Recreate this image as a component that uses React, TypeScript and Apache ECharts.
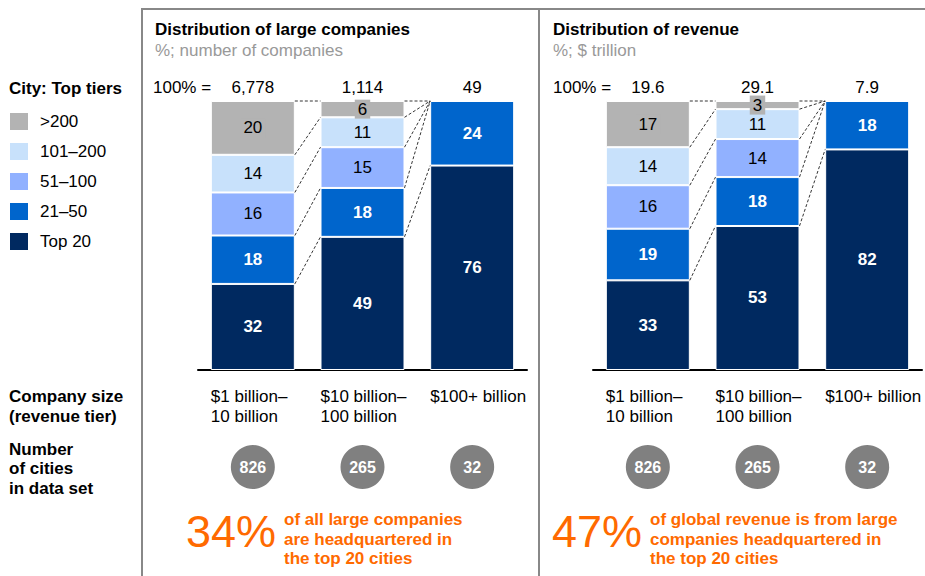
import React, { useEffect, useRef } from "react";
import * as echarts from "echarts";

const TIERS = ["Top 20", "21–50", "51–100", "101–200", ">200"];
const LEGEND_ORDER = [">200", "101–200", "51–100", "21–50", "Top 20"];
const SIZE_CATEGORIES = ["$1 billion–\n10 billion", "$10 billion–\n100 billion", "$100+ billion"];

// Distribution of large companies (%)
const COMPANY_TOP20 = [32, 49, 76];
const COMPANY_21_50 = [18, 18, 24];
const COMPANY_51_100 = [16, 15, 0];
const COMPANY_101_200 = [14, 11, 0];
const COMPANY_OVER_200 = [20, 6, 0];
const COMPANY_TOTALS = ["6,778", "1,114", "49"];

// Distribution of revenue (%)
const REVENUE_TOP20 = [33, 53, 82];
const REVENUE_21_50 = [19, 18, 18];
const REVENUE_51_100 = [16, 14, 0];
const REVENUE_101_200 = [14, 11, 0];
const REVENUE_OVER_200 = [17, 3, 0];
const REVENUE_TOTALS = ["19.6", "29.1", "7.9"];

const CITY_COUNTS = [826, 265, 32];

const COLORS = ["#002960", "#0065CC", "#91B1FF", "#C8E1FB", "#B3B3B3"];
const FONT = "'Liberation Sans', Arial, Helvetica, sans-serif";
const ORANGE = "#FF6A00";
const BAR_W = 84;
const FS = 17;

type Panel = { tiers: number[][]; totals: string[] };

const PANELS: Panel[] = [
  { tiers: [COMPANY_TOP20, COMPANY_21_50, COMPANY_51_100, COMPANY_101_200, COMPANY_OVER_200], totals: COMPANY_TOTALS },
  { tiers: [REVENUE_TOP20, REVENUE_21_50, REVENUE_51_100, REVENUE_101_200, REVENUE_OVER_200], totals: REVENUE_TOTALS },
];

function normalize(p: Panel) {
  const n = SIZE_CATEGORIES.length;
  const sums = Array.from({ length: n }, (_, i) => p.tiers.reduce((s, t) => s + t[i], 0));
  const norm = p.tiers.map((t) => t.map((v, i) => (v / sums[i]) * 100));
  const cums = Array.from({ length: n }, (_, i) => {
    let c = 0;
    return norm.map((t) => (c += t[i]));
  });
  return { norm, cums };
}

function txt(text: string, x: number, y: number, o: any = {}) {
  return {
    type: "text",
    x,
    y,
    silent: true,
    style: {
      text,
      fill: o.fill || "#000",
      fontSize: o.size || FS,
      fontWeight: o.bold ? "bold" : "normal",
      fontFamily: FONT,
      textAlign: o.align || "left",
      textVerticalAlign: o.va || "middle",
      lineHeight: o.lh,
    },
  };
}

export default function App() {
  const ref = useRef<HTMLDivElement>(null);
  useEffect(() => {
    if (!ref.current) return;
    const chart = echarts.init(ref.current, null, { renderer: "svg" });
    const grids = [
      { left: 198, width: 329, top: 101, height: 269 },
      { left: 593, width: 329, top: 101, height: 269 },
    ];
    const series: any[] = [];
    PANELS.forEach((p, pi) => {
      const { norm, cums } = normalize(p);
      TIERS.forEach((name, ti) => {
        const dark = ti < 2;
        series.push({
          name,
          type: "bar",
          stack: "p" + pi,
          xAxisIndex: pi,
          yAxisIndex: pi,
          barWidth: BAR_W,
          color: COLORS[ti],
          itemStyle: { color: COLORS[ti], borderColor: "#fff", borderWidth: 1 },
          data: norm[ti].map((v, i) => ({
            value: v,
            label: { show: p.tiers[ti][i] > 0 },
          })),
          label: {
            show: true,
            position: "inside",
            formatter: (prm: any) => String(p.tiers[ti][prm.dataIndex]),
            color: dark ? "#fff" : "#000",
            fontWeight: dark ? "bold" : "normal",
            fontSize: FS,
            fontFamily: FONT,
            ...(ti === 4 ? { backgroundColor: "#B3B3B3", padding: [1, 3, 1, 3] } : {}),
          },
        });
      });
      series.push({
        type: "custom",
        xAxisIndex: pi,
        yAxisIndex: pi,
        silent: true,
        z: 10,
        data: SIZE_CATEGORIES.map((_, i) => [i, 0]),
        encode: { x: 0, y: 1 },
        renderItem: (params: any, api: any) => {
          const i = api.value(0);
          const [cx, baseY] = api.coord([i, 0]);
          const topY = api.coord([i, 100])[1];
          const children: any[] = [];
          children.push(txt(p.totals[i], cx, topY - 14, { align: "center" }));
          children.push(
            txt(SIZE_CATEGORIES[i], cx - BAR_W / 2, baseY + 16, { va: "top", lh: 20 })
          );
          children.push({
            type: "circle",
            shape: { cx, cy: baseY + 97, r: 22 },
            style: { fill: "#808080" },
          });
          children.push(
            txt(String(CITY_COUNTS[i]), cx, baseY + 97, { align: "center", bold: true, fill: "#fff", size: 16 })
          );
          if (i < SIZE_CATEGORIES.length - 1) {
            const nx = api.coord([i + 1, 0])[0];
            for (let k = 0; k < TIERS.length; k++) {
              const y1 = api.coord([i, cums[i][k]])[1];
              const y2 = api.coord([i + 1, cums[i + 1][k]])[1];
              children.push({
                type: "line",
                shape: { x1: cx + BAR_W / 2, y1, x2: nx - BAR_W / 2, y2 },
                style: { stroke: "#000", lineWidth: 0.8, lineDash: [3, 2] },
              });
            }
          }
          return { type: "group", children };
        },
      });
    });

    const graphic: any[] = [
      {
        type: "polyline",
        shape: { points: [[142, 576], [142, 9], [925, 9]] },
        style: { stroke: "#888", lineWidth: 2, fill: "none" },
        silent: true,
      },
      {
        type: "line",
        shape: { x1: 539, y1: 9, x2: 539, y2: 576 },
        style: { stroke: "#888", lineWidth: 2 },
        silent: true,
      },
      txt("City: Top tiers", 9, 88, { bold: true }),
      txt("Company size", 9, 396, { bold: true }),
      txt("(revenue tier)", 9, 416, { bold: true }),
      txt("Number", 9, 449, { bold: true }),
      txt("of cities", 9, 468, { bold: true }),
      txt("in data set", 9, 488, { bold: true }),
      txt("Distribution of large companies", 155, 29, { bold: true }),
      txt("%; number of companies", 155, 50, { fill: "#999" }),
      txt("100% =", 153, 87),
      txt("Distribution of revenue", 553, 29, { bold: true }),
      txt("%; $ trillion", 553, 50, { fill: "#999" }),
      txt("100% =", 553, 87),
      txt("34%", 186, 531, { size: 45, fill: ORANGE }),
      txt("of all large companies\nare headquartered in\nthe top 20 cities", 284, 510, {
        bold: true, fill: ORANGE, va: "top", lh: 19.5,
      }),
      txt("47%", 552, 531, { size: 45, fill: ORANGE }),
      txt("of global revenue is from large\ncompanies headquartered in\nthe top 20 cities", 650, 510, {
        bold: true, fill: ORANGE, va: "top", lh: 19.5,
      }),
    ];

    chart.setOption({
      animation: false,
      grid: grids,
      xAxis: grids.map((_, i) => ({
        type: "category",
        gridIndex: i,
        data: SIZE_CATEGORIES,
        axisLine: { show: true, lineStyle: { color: "#000", width: 2 } },
        axisTick: { show: false },
        axisLabel: { show: false },
        splitLine: { show: false },
      })),
      yAxis: grids.map((_, i) => ({ type: "value", gridIndex: i, min: 0, max: 100, show: false })),
      legend: {
        data: LEGEND_ORDER,
        orient: "vertical",
        left: 10,
        top: 113,
        padding: 0,
        itemWidth: 18,
        itemHeight: 17,
        itemGap: 13,
        icon: "rect",
        selectedMode: false,
        itemStyle: { borderWidth: 0 },
        textStyle: { fontSize: FS, fontFamily: FONT, color: "#000", padding: [0, 0, 0, 7] },
      },
      series,
      graphic,
    });
    return () => chart.dispose();
  }, []);
  return (
    <div
      ref={ref}
      style={{ position: "fixed", left: 0, top: 0, width: 925, height: 576, background: "#fff" }}
    />
  );
}
